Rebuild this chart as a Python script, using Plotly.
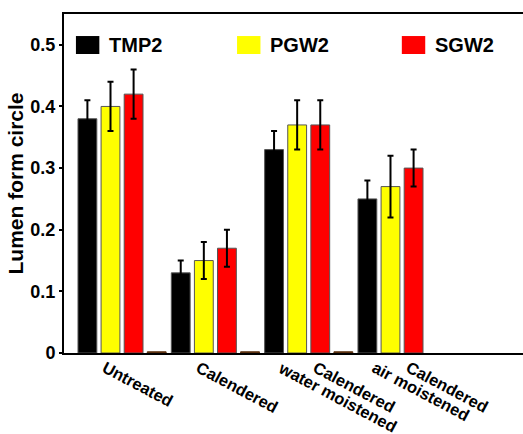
import plotly.graph_objects as go

categories = ["Untreated", "Calendered", "Calendered\nwater moistened", "Calendered\nair moistened"]
series_names = ["TMP2", "PGW2", "SGW2"]
series_colors = ["#000000", "#ffff00", "#ff0000"]
tmp2 = [0.38, 0.13, 0.33, 0.25]
tmp2_err = [0.03, 0.02, 0.03, 0.03]
pgw2 = [0.40, 0.15, 0.37, 0.27]
pgw2_err = [0.04, 0.03, 0.04, 0.05]
sgw2 = [0.42, 0.17, 0.37, 0.30]
sgw2_err = [0.04, 0.03, 0.04, 0.03]
spacer = [0.002, 0.002, 0.002, None]
y_ticks = [0, 0.1, 0.2, 0.3, 0.4, 0.5]
y_tick_text = ["0", "0.1", "0.2", "0.3", "0.4", "0.5"]

FONT = "Liberation Sans, Arial, sans-serif"

xpos = list(range(len(categories)))
fig = go.Figure()
vals = [tmp2, pgw2, sgw2]
errs = [tmp2_err, pgw2_err, sgw2_err]
for name, color, v, e in zip(series_names, series_colors, vals, errs):
    fig.add_trace(go.Bar(
        x=xpos, y=v, name=name,
        marker=dict(color=color, line=dict(color="#555555", width=1)),
        error_y=dict(type="data", array=e, visible=True, color="#000000", thickness=2, width=3),
        showlegend=False,
    ))
fig.add_trace(go.Bar(x=xpos, y=spacer, name="", marker=dict(color="#5a3010", line=dict(color="#5a3010", width=1)),
                     showlegend=False, hoverinfo="skip"))

# custom legend
leg_x = [0.026, 0.377, 0.736]
for name, color, lx in zip(series_names, series_colors, leg_x):
    fig.add_shape(type="rect", xref="paper", yref="paper", x0=lx, x1=lx + 0.051, y0=0.882, y1=0.935,
                  fillcolor=color, line=dict(width=0))
    fig.add_annotation(xref="paper", yref="paper", x=lx + 0.067, y=0.909, text="<b>" + name + "</b>",
                       showarrow=False, xanchor="left", yanchor="middle",
                       font=dict(family=FONT, size=20, color="#000000"))

# category labels (rotated, drawn as annotations)
for i, c in zip(xpos, categories):
    parts = c.split("\n")
    if len(parts) == 1:
        items = [(parts[0], i - 0.27)]
    else:
        items = [(parts[0], i - 0.013), (parts[1], i - 0.383)]
    for txt, xx in items:
        fig.add_annotation(xref="x", yref="paper", x=xx, y=-0.008, text="<b>" + txt + "</b>",
                           showarrow=False, xanchor="left", yanchor="top", textangle=28,
                           font=dict(family=FONT, size=16.5, color="#000000"))

fig.update_layout(
    width=523, height=434,
    margin=dict(l=64, r=0, t=14, b=81),
    paper_bgcolor="white", plot_bgcolor="white",
    barmode="group", bargap=0.01, bargroupgap=0.185,
    font=dict(family=FONT, color="#000000"),
    xaxis=dict(
        range=[-0.622, 4.296], automargin=False,
        showticklabels=False, ticks="", showgrid=False, zeroline=False,
        showline=True, linecolor="#000000", linewidth=1.5, mirror=True,
    ),
    yaxis=dict(
        range=[0, 0.55], tickmode="array", tickvals=y_ticks, automargin=False,
        ticktext=["<b>" + t + "</b>" for t in y_tick_text],
        ticks="outside", ticklen=3, tickwidth=1.5, tickcolor="#000000",
        showgrid=False, zeroline=False,
        showline=True, linecolor="#000000", linewidth=2, mirror=False,
        tickfont=dict(family=FONT, size=18, color="#000000"),
        title=dict(text="<b>Lumen form circle</b>", font=dict(family=FONT, size=21, color="#000000"), standoff=1),
    ),
)

fig.write_html("out.html")
